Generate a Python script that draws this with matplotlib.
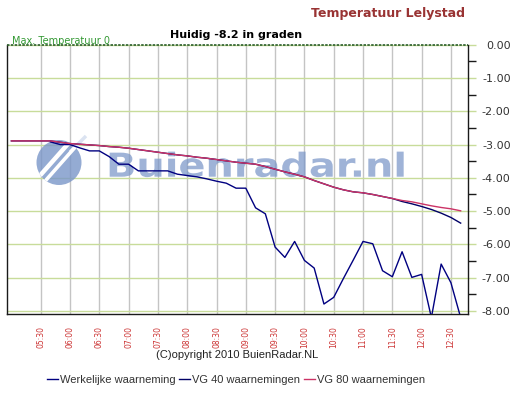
import matplotlib
matplotlib.use('Agg')
import matplotlib.pyplot as plt
import matplotlib.transforms as mtransforms
from matplotlib.textpath import TextPath
from matplotlib.patches import PathPatch, Circle
from matplotlib.font_manager import FontProperties
from matplotlib.ticker import FixedLocator

W, H, DPI = 521, 393, 100

# ---------------- data ----------------
actual_times = ["05:40", "05:50", "06:00", "06:10", "06:20", "06:30", "06:40", "06:50",
                "07:00", "07:10", "07:20", "07:30", "07:40", "07:50", "08:00", "08:10",
                "08:20", "08:30", "08:40", "08:50", "09:00", "09:10", "09:20", "09:30",
                "09:40", "09:50", "10:00", "10:10", "10:20", "10:30", "10:40", "10:50",
                "11:00", "11:10", "11:20", "11:30", "11:40", "11:50", "12:00", "12:10",
                "12:20", "12:30", "12:40"]
actual = [-2.92, -3.00, -3.00, -3.10, -3.19, -3.19, -3.36, -3.59,
          -3.59, -3.79, -3.79, -3.79, -3.79, -3.89, -3.93, -3.97,
          -4.03, -4.10, -4.16, -4.31, -4.31, -4.90, -5.08, -6.08,
          -6.39, -5.91, -6.48, -6.71, -7.79, -7.59, -7.02, -6.47,
          -5.91, -5.98, -6.79, -6.97, -6.22, -6.99, -6.90, -8.20,
          -6.59, -7.15, -8.20]

avg_times = ["05:00", "05:10", "05:20", "05:30"] + actual_times
vg80 = [-2.89, -2.89, -2.89, -2.89,
        -2.89, -2.93, -2.97, -2.99, -3.01, -3.03, -3.06, -3.08,
        -3.11, -3.15, -3.19, -3.23, -3.27, -3.31, -3.34, -3.38,
        -3.41, -3.45, -3.49, -3.53, -3.56, -3.59, -3.66, -3.74,
        -3.82, -3.89, -3.97, -4.08, -4.18, -4.28, -4.36, -4.42,
        -4.45, -4.50, -4.56, -4.62, -4.68, -4.72, -4.78, -4.84,
        -4.89, -4.93, -4.99]
vg40 = [-2.89, -2.89, -2.89, -2.89,
        -2.89, -2.93, -2.97, -2.99, -3.01, -3.03, -3.06, -3.08,
        -3.11, -3.15, -3.19, -3.23, -3.27, -3.31, -3.34, -3.38,
        -3.41, -3.45, -3.49, -3.53, -3.56, -3.59, -3.66, -3.74,
        -3.82, -3.89, -3.97, -4.08, -4.18, -4.28, -4.36, -4.42,
        -4.45, -4.50, -4.56, -4.62, -4.71, -4.78, -4.86, -4.95,
        -5.06, -5.19, -5.36]

tick_labels = ["05:30", "06:00", "06:30", "07:00", "07:30", "08:00", "08:30", "09:00",
               "09:30", "10:00", "10:30", "11:00", "11:30", "12:00", "12:30"]
y_ticks = [0, -1, -2, -3, -4, -5, -6, -7, -8]

series_names = ["Werkelijke waarneming", "VG 40 waarnemingen", "VG 80 waarnemingen"]


def to_min(s):
    h, m = s.split(":")
    return int(h) * 60 + int(m)


# ---------------- figure ----------------
fig = plt.figure(figsize=(W / DPI, H / DPI), dpi=DPI)
fig.patch.set_facecolor('white')

L, R, T, B = 7, 468.3, 44.7, 314
ax = fig.add_axes([L / W, 1 - B / H, (R - L) / W, (B - T) / H])
ax.set_facecolor('white')
ax.set_axisbelow(True)

ax.set_xlim(295.5, 767.8)
ax.set_ylim(-8.09, 0)

# grid
tick_pos = [to_min(t) for t in tick_labels]
ax.xaxis.set_major_locator(FixedLocator(tick_pos))
ax.set_xticklabels(tick_labels)
ax.yaxis.set_major_locator(FixedLocator(y_ticks))
ax.yaxis.set_minor_locator(FixedLocator([v - 0.5 for v in y_ticks[:-1]]))
ax.set_yticklabels(["%.2f" % v for v in y_ticks])

ax.grid(axis='x', color='#c4c4c4', linewidth=1.0)
ax.grid(axis='y', color='#c8dc9a', linewidth=1.0)

for s in ['left', 'right', 'bottom']:
    ax.spines[s].set_color('#1a1a1a')
    ax.spines[s].set_linewidth(1.0)
ax.spines['top'].set_visible(False)

ax.tick_params(axis='x', length=0, pad=9, labelsize=5.5, labelcolor='#cc3333',
               labelrotation=90)
for lab in ax.get_xticklabels():
    lab.set_fontfamily('DejaVu Sans')
ax.yaxis.tick_right()
ax.tick_params(axis='y', which='major', direction='out', length=6, width=1,
               color='#c8dc9a', labelsize=8, labelcolor='#333333', pad=24.5)
ax.tick_params(axis='y', which='minor', direction='out', length=6, width=1,
               color='#1a1a1a')
for lab in ax.get_yticklabels():
    lab.set_horizontalalignment('right')

# max temperature dashed line (at 0)
ax.axhline(0, color='#2a5e2a', linestyle=(0, (1.5, 0.8)), linewidth=1.2,
           clip_on=False, zorder=3)

# ---------------- watermark ----------------
px = mtransforms.Affine2D().scale(1 / DPI) + fig.dpi_scale_trans
wm_color = '#7a96c8'
fp = FontProperties(family='DejaVu Sans', weight='bold')
tp = TextPath((0, 0), "Buienradar.nl", size=33, prop=fp)
tw = tp.get_extents().width
tr = mtransforms.Affine2D().scale(294 / tw, 1.0).translate(106, H - 176.7) + px
wm = PathPatch(tp, transform=tr, facecolor=wm_color, edgecolor='none', alpha=0.72,
               zorder=1)
ax.add_patch(wm)
circ = Circle((59, H - 162.5), 22.5, transform=px, facecolor=wm_color,
              edgecolor='none', alpha=0.8, zorder=1)
ax.add_patch(circ)
for off, lw in [(-7, 3.2), (3, 2.6)]:
    ln, = ax.plot([36 + off, 82 + off], [H - 188, H - 136], transform=px,
                  color='white', linewidth=lw, zorder=1.1, solid_capstyle='butt')
    ln.set_clip_path(circ)
ax.plot([70, 86], [H - 152, H - 136], transform=px, color='#dbe3f1',
        linewidth=2.5, zorder=1.05, solid_capstyle='butt')

# ---------------- lines ----------------
xa = [to_min(t) for t in actual_times]
xv = [to_min(t) for t in avg_times]
l1, = ax.plot(xa, actual, color='#000080', linewidth=1.0, zorder=4)
l2, = ax.plot(xv, vg40, color='#000066', linewidth=1.0, zorder=4)
l3, = ax.plot(xv, vg80, color='#cc3366', linewidth=1.0, zorder=5)

# ---------------- texts ----------------
fig.text(465 / W, 1 - 13.5 / H, "Temperatuur Lelystad", ha='right', va='center',
         fontsize=9, fontweight='bold', color='#993333', family='DejaVu Sans')
fig.text(236 / W, 1 - 35 / H, "Huidig -8.2 in graden", ha='center', va='center',
         fontsize=8, fontweight='bold', color='black', family='DejaVu Sans')
fig.text(12 / W, 1 - 41 / H, "Max. Temperatuur 0", ha='left', va='center',
         fontsize=7, color='#339933', family='DejaVu Sans')
fig.text(237 / W, 1 - 355 / H, "(C)opyright 2010 BuienRadar.NL", ha='center',
         va='center', fontsize=8, color='#222222', family='Liberation Sans')

leg = fig.legend([l1, l2, l3], series_names, loc='center', ncol=3,
                 bbox_to_anchor=(236 / W, 1 - 380 / H), frameon=False,
                 handlelength=1.0, handletextpad=0.2, columnspacing=0.3,
                 prop=FontProperties(family='Liberation Sans', size=8))
for t in leg.get_texts():
    t.set_color('#333333')

fig.savefig('out.png', dpi=DPI, facecolor='white')
